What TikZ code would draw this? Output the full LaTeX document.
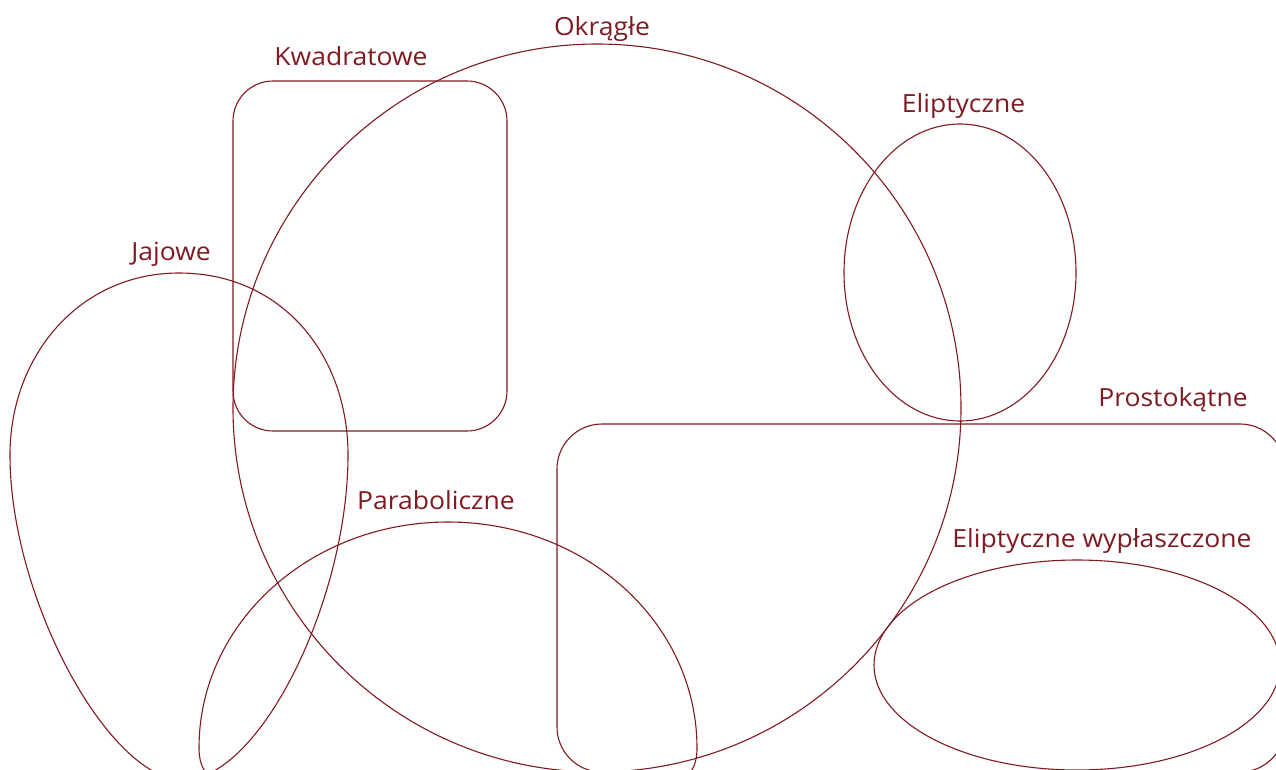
\documentclass[tikz,border=0pt]{standalone}
\usepackage{fontspec}
\setmainfont[FakeStretch=1.06]{Open Sans}
\definecolor{wine}{RGB}{128,26,34}
\begin{document}
\begin{tikzpicture}[x=1pt,y=-1pt,
  shape line/.style={draw=wine,line width=1.1pt},
  lbl/.style={text=wine,font=\fontsize{25}{30}\selectfont,anchor=base,inner sep=0pt}]
\useasboundingbox (0,0) rectangle (1276,769);
\clip (0,0) rectangle (1276,769);
% Okragle
\draw[shape line] (597,408) circle [radius=364];
% Kwadratowe
\draw[shape line,rounded corners=40pt] (233,81) rectangle (507,431);
% Eliptyczne
\draw[shape line] (960,272.5) ellipse [x radius=116, y radius=148.5];
% Prostokatne
\draw[shape line,rounded corners=45pt] (557,424) rectangle (1285,772);
% Eliptyczne wyplaszczone
\draw[shape line] (1077,665) ellipse [x radius=203, y radius=105];
% Jajowe
\draw[shape line] (179,273) .. controls (282,273) and (348,355) .. (348,455)
  .. controls (348,600) and (260,780) .. (183,780)
  .. controls (110,780) and (10,600) .. (10,455)
  .. controls (10,355) and (80,273) .. (179,273) -- cycle;
% Paraboliczne
\draw[shape line] (230,782) .. controls (205,782) and (199,765) .. (199,748)
  .. controls (199,623) and (310,522) .. (448,522)
  .. controls (586,522) and (697,623) .. (697,748)
  .. controls (697,765) and (691,782) .. (666,782) -- cycle;
% labels
\node[lbl] (l-okr) at (602,35) {Okrągłe};
\node[lbl] (l-kwa) at (351,65) {Kwadratowe};
\node[lbl] (l-eli) at (963.5,112) {Eliptyczne};
\node[lbl] (l-jaj) at (171,260) {Jajowe};
\node[lbl] (l-pro) at (1173,406) {Prostokątne};
\node[lbl] (l-par) at (436,509) {Paraboliczne};
\node[lbl] (l-ewy) at (1102,547) {Eliptyczne wypłaszczone};
\end{tikzpicture}
\end{document}
